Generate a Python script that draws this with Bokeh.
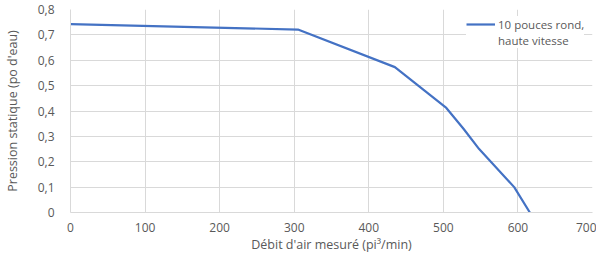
from bokeh.plotting import figure
from bokeh.models import Range1d, FixedTicker, Legend, LegendItem
from bokeh.embed import file_html
from bokeh.resources import INLINE

# Data
debit = [0, 305, 435, 504, 527, 548, 595, 616]
pression = [0.742, 0.721, 0.573, 0.412, 0.33, 0.25, 0.10, 0.0]
series_label_line1 = "10 pouces rond,"
series_label_line2 = "haute vitesse"
x_title = "Débit d'air mesuré (pi³/min)"
y_title = "Pression statique (po d'eau)"

x_ticks = [0, 100, 200, 300, 400, 500, 600, 700]
x_tick_labels = ["0", "100", "200", "300", "400", "500", "600", "700"]
y_ticks = [0, 0.1, 0.2, 0.3, 0.4, 0.5, 0.6, 0.7, 0.8]
y_tick_labels = ["0", "0,1", "0,2", "0,3", "0,4", "0,5", "0,6", "0,7", "0,8"]

FONT = "Open Sans"
GREY = "#595959"
GRID = "#d9d9d9"

p = figure(width=596, height=255, output_backend="svg", toolbar_location=None,
           x_range=Range1d(0, 700), y_range=Range1d(0, 0.8),
           min_border_left=0, min_border_right=4, min_border_top=9, min_border_bottom=0)
p.outline_line_color = None
p.background_fill_color = "white"
p.border_fill_color = "white"

r = p.line(debit, pression, line_color="#4472C4", line_width=2.2)
# invisible helper renderer so the legend text can wrap onto a second line
r2 = p.line([], [], line_alpha=0)

p.xaxis.ticker = FixedTicker(ticks=x_ticks)
p.yaxis.ticker = FixedTicker(ticks=y_ticks)
p.xaxis.major_label_overrides = {t: l for t, l in zip(x_ticks, x_tick_labels)}
p.yaxis.major_label_overrides = {t: l for t, l in zip(y_ticks, y_tick_labels)}

for ax in (p.xaxis[0], p.yaxis[0]):
    ax.major_tick_line_color = None
    ax.minor_tick_line_color = None
    ax.axis_line_color = GRID
    ax.major_label_text_font = FONT
    ax.major_label_text_font_size = "12px"
    ax.major_label_text_color = GREY
    ax.axis_label_text_font = FONT
    ax.axis_label_text_font_size = "12.5px"
    ax.axis_label_text_color = GREY
    ax.axis_label_text_font_style = "normal"

p.xaxis.axis_label = x_title
p.yaxis.axis_label = y_title
p.xaxis.major_label_standoff = 4
p.xaxis.axis_label_standoff = 1
p.yaxis.major_label_standoff = 10
p.yaxis.axis_label_standoff = 14

p.xgrid.ticker = FixedTicker(ticks=x_ticks)
p.ygrid.ticker = FixedTicker(ticks=y_ticks)
p.xgrid.grid_line_color = GRID
p.ygrid.grid_line_color = GRID

legend = Legend(items=[LegendItem(label=series_label_line1, renderers=[r]),
                       LegendItem(label=series_label_line2, renderers=[r2])],
                location=(396, 164), border_line_color=None,
                background_fill_color="white", background_fill_alpha=1.0,
                label_text_font=FONT, label_text_font_size="11.5px",
                label_text_color=GREY, glyph_width=29, glyph_height=16,
                label_height=16, label_standoff=3, spacing=0,
                padding=6, margin=0)
p.add_layout(legend)

open("out.html", "w").write(file_html(p, INLINE))
